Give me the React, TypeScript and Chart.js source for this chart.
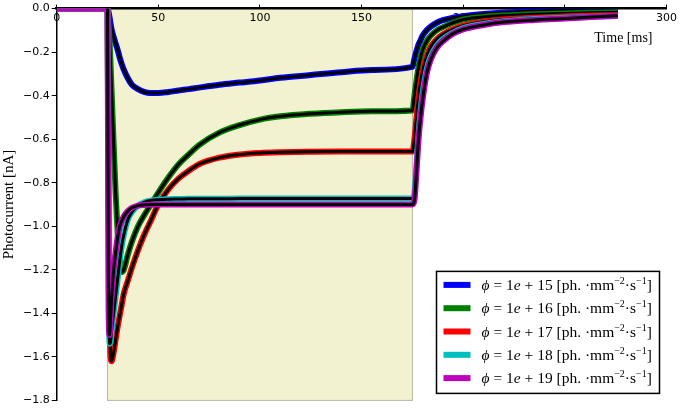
import { useEffect, useRef } from "react"
import { Chart, registerables } from "chart.js"

Chart.register(...registerables)

// sample times [ms]
const times = [
  0, 25, 25.5, 26, 26.5, 27, 28, 29, 30, 31, 32, 33, 35, 37, 40, 43, 46, 50, 55, 60, 65, 70, 80, 90,
  100, 110, 125, 140, 155, 175, 176, 177, 178, 179, 180, 182, 184, 187, 190, 195, 200, 210, 220, 235,
  250, 265, 276,
]

// photocurrent [nA] per flux
const current15 = [
  0, 0, -0.015, -0.04, -0.07, -0.095, -0.13, -0.16, -0.19, -0.225, -0.255, -0.28, -0.32, -0.35, -0.37,
  -0.383, -0.388, -0.388, -0.383, -0.376, -0.37, -0.363, -0.35, -0.34, -0.33, -0.318, -0.305, -0.292,
  -0.282, -0.268, -0.23, -0.195, -0.165, -0.145, -0.125, -0.1, -0.083, -0.065, -0.053, -0.042, -0.035,
  -0.025, -0.018, -0.012, -0.008, -0.006, -0.005,
]
const current16 = [
  0, 0, -0.07, -0.15, -0.26, -0.38, -0.62, -0.85, -1.03, -1.15, -1.21, -1.2, -1.13, -1.07, -1.0, -0.95,
  -0.905, -0.845, -0.775, -0.715, -0.67, -0.627, -0.57, -0.535, -0.51, -0.495, -0.483, -0.476, -0.472,
  -0.468, -0.4, -0.33, -0.27, -0.225, -0.19, -0.15, -0.125, -0.1, -0.085, -0.065, -0.05, -0.038, -0.032,
  -0.026, -0.022, -0.019, -0.017,
]
const current17 = [
  0, 0, -0.8, -1.35, -1.6, -1.62, -1.58, -1.52, -1.46, -1.41, -1.36, -1.31, -1.25, -1.19, -1.11, -1.04,
  -0.98, -0.9, -0.83, -0.78, -0.745, -0.715, -0.685, -0.67, -0.663, -0.66, -0.658, -0.657, -0.657,
  -0.657, -0.6, -0.5, -0.41, -0.34, -0.29, -0.22, -0.175, -0.14, -0.118, -0.095, -0.078, -0.06, -0.05,
  -0.042, -0.036, -0.032, -0.03,
]
const current18 = [
  0, 0, -1.0, -1.54, -1.53, -1.48, -1.4, -1.32, -1.24, -1.16, -1.09, -1.04, -0.97, -0.935, -0.905, -0.89,
  -0.882, -0.878, -0.876, -0.875, -0.874, -0.874, -0.874, -0.873, -0.873, -0.873, -0.873, -0.873,
  -0.873, -0.873, -0.85, -0.72, -0.58, -0.47, -0.39, -0.28, -0.22, -0.17, -0.14, -0.11, -0.09, -0.07,
  -0.058, -0.048, -0.042, -0.037, -0.034,
]
const current19 = [
  0, 0, -1.35, -1.5, -1.42, -1.33, -1.2, -1.12, -1.05, -1.0, -0.975, -0.955, -0.93, -0.915, -0.905,
  -0.902, -0.9, -0.9, -0.9, -0.9, -0.9, -0.9, -0.9, -0.9, -0.9, -0.9, -0.9, -0.9, -0.9, -0.9, -0.88,
  -0.75, -0.6, -0.5, -0.42, -0.3, -0.235, -0.18, -0.15, -0.115, -0.095, -0.075, -0.062, -0.052, -0.045,
  -0.038, -0.033,
]

const exponents = [15, 16, 17, 18, 19]
const seriesValues = [current15, current16, current17, current18, current19]
const seriesColors = ["#0000ff", "#008000", "#ff0000", "#00bfbf", "#bf00bf"]

const stimOn = 25
const stimOff = 175

const serif = "Liberation Serif"

const stimulusShade = {
  id: "stimulusShade",
  beforeDraw(chart: any) {
    const { ctx, chartArea, scales } = chart
    const x0 = scales.x.getPixelForValue(stimOn)
    const x1 = scales.x.getPixelForValue(stimOff)
    ctx.save()
    ctx.fillStyle = "#f2f2d0"
    ctx.fillRect(x0, chartArea.top, x1 - x0, chartArea.bottom - chartArea.top)
    ctx.strokeStyle = "#b8b8a4"
    ctx.lineWidth = 1
    ctx.strokeRect(x0, chartArea.top, x1 - x0, chartArea.bottom - chartArea.top)
    ctx.restore()
  },
}

// legend with math-like labels, drawn inside the plot
const phiLegend = {
  id: "phiLegend",
  afterDraw(chart: any) {
    const { ctx, chartArea } = chart
    const w = 223
    const h = 122
    const left = chartArea.right - 7 - w
    const top = chartArea.bottom - 7 - h
    ctx.save()
    ctx.fillStyle = "#fff"
    ctx.fillRect(left, top, w, h)
    ctx.strokeStyle = "#000"
    ctx.lineWidth = 1.5
    ctx.strokeRect(left, top, w, h)
    ctx.textBaseline = "alphabetic"
    exponents.forEach((exp, i) => {
      const cy = top + 13.5 + i * 23.3
      ctx.fillStyle = seriesColors[i]
      ctx.fillRect(left + 7, cy - 3, 27, 6)
      const parts = [
        { t: "ϕ", it: true },
        { t: " = 1" },
        { t: "e", it: true },
        { t: " + " + exp + " [ph. ·mm" },
        { t: "−2", sup: true },
        { t: "·s" },
        { t: "−1", sup: true },
        { t: "]" },
      ] as { t: string; it?: boolean; sup?: boolean }[]
      let x = left + 45
      ctx.fillStyle = "#000"
      parts.forEach((p) => {
        const size = p.sup ? 10 : 15.5
        ctx.font = `${p.it ? "italic " : ""}${size}px "${serif}"`
        ctx.fillText(p.t, x, cy + (p.sup ? -1 : 5))
        x += ctx.measureText(p.t).width
      })
    })
    ctx.restore()
  },
}

export default function App() {
  const canvasRef = useRef<HTMLCanvasElement>(null)
  const chartRef = useRef<Chart | null>(null)

  useEffect(() => {
    document.body.style.margin = "0"
    if (!canvasRef.current) return
    if (chartRef.current) chartRef.current.destroy()

    const fitStart = times.indexOf(stimOn)
    const datasets: any[] = []
    seriesValues.forEach((vals, i) => {
      const order = (seriesValues.length - 1 - i) * 2
      datasets.push({
        label: "phi " + exponents[i],
        data: times.map((t, k) => ({ x: t, y: vals[k] })),
        borderColor: seriesColors[i],
        borderWidth: 6,
        order: order + 1,
      })
      datasets.push({
        label: "fit " + exponents[i],
        data: times.slice(fitStart).map((t, k) => ({ x: t, y: vals[k + fitStart] })),
        borderColor: "#000",
        borderWidth: 3,
        order,
      })
    })

    chartRef.current = new Chart(canvasRef.current, {
      type: "line",
      data: { datasets },
      plugins: [stimulusShade, phiLegend],
      options: {
        responsive: true,
        maintainAspectRatio: false,
        animation: false,
        layout: { padding: { top: 3, right: 8, bottom: 0, left: 0 } },
        elements: {
          point: { radius: 0 },
          line: { cubicInterpolationMode: "monotone", fill: false },
        },
        plugins: { legend: { display: false }, tooltip: { enabled: false } },
        scales: {
          x: {
            type: "linear",
            axis: "x",
            position: { y: 0 },
            min: 0,
            max: 300,
            ticks: {
              stepSize: 50,
              color: "#000",
              padding: 3,
              maxRotation: 0,
              font: { family: "DejaVu Sans", size: 11 },
            },
            grid: { display: false, drawTicks: false },
            border: { display: false },
            title: {
              display: true,
              text: "Time [ms]\u2003",
              align: "end",
              color: "#000",
              font: { family: serif, size: 14 },
              padding: { top: 2, bottom: 0 },
            },
          },
          xTop: {
            type: "linear",
            axis: "x",
            position: "top",
            min: 0,
            max: 300,
            ticks: { stepSize: 50, display: false },
            grid: { drawOnChartArea: false, tickLength: 4, tickColor: "#000" },
            border: { color: "#000", width: 2.5 },
          },
          y: {
            min: -1.8,
            max: 0,
            ticks: {
              stepSize: 0.2,
              color: "#000",
              padding: 2,
              font: { family: "DejaVu Sans", size: 11 },
              callback: (v: any) => Number(v).toFixed(1).replace("-", "\u2212"),
            },
            grid: { drawOnChartArea: false, tickLength: 5, tickColor: "#000" },
            border: { color: "#000", width: 1.5 },
            title: {
              display: true,
              text: "Photocurrent [nA]",
              color: "#000",
              font: { family: serif, size: 15 },
              padding: { top: 0, bottom: 3 },
            },
          },
        },
      } as any,
    })

    return () => {
      if (chartRef.current) {
        chartRef.current.destroy()
        chartRef.current = null
      }
    }
  }, [])

  return (
    <div style={{ width: 680, height: 409 }}>
      <canvas ref={canvasRef} />
    </div>
  )
}
